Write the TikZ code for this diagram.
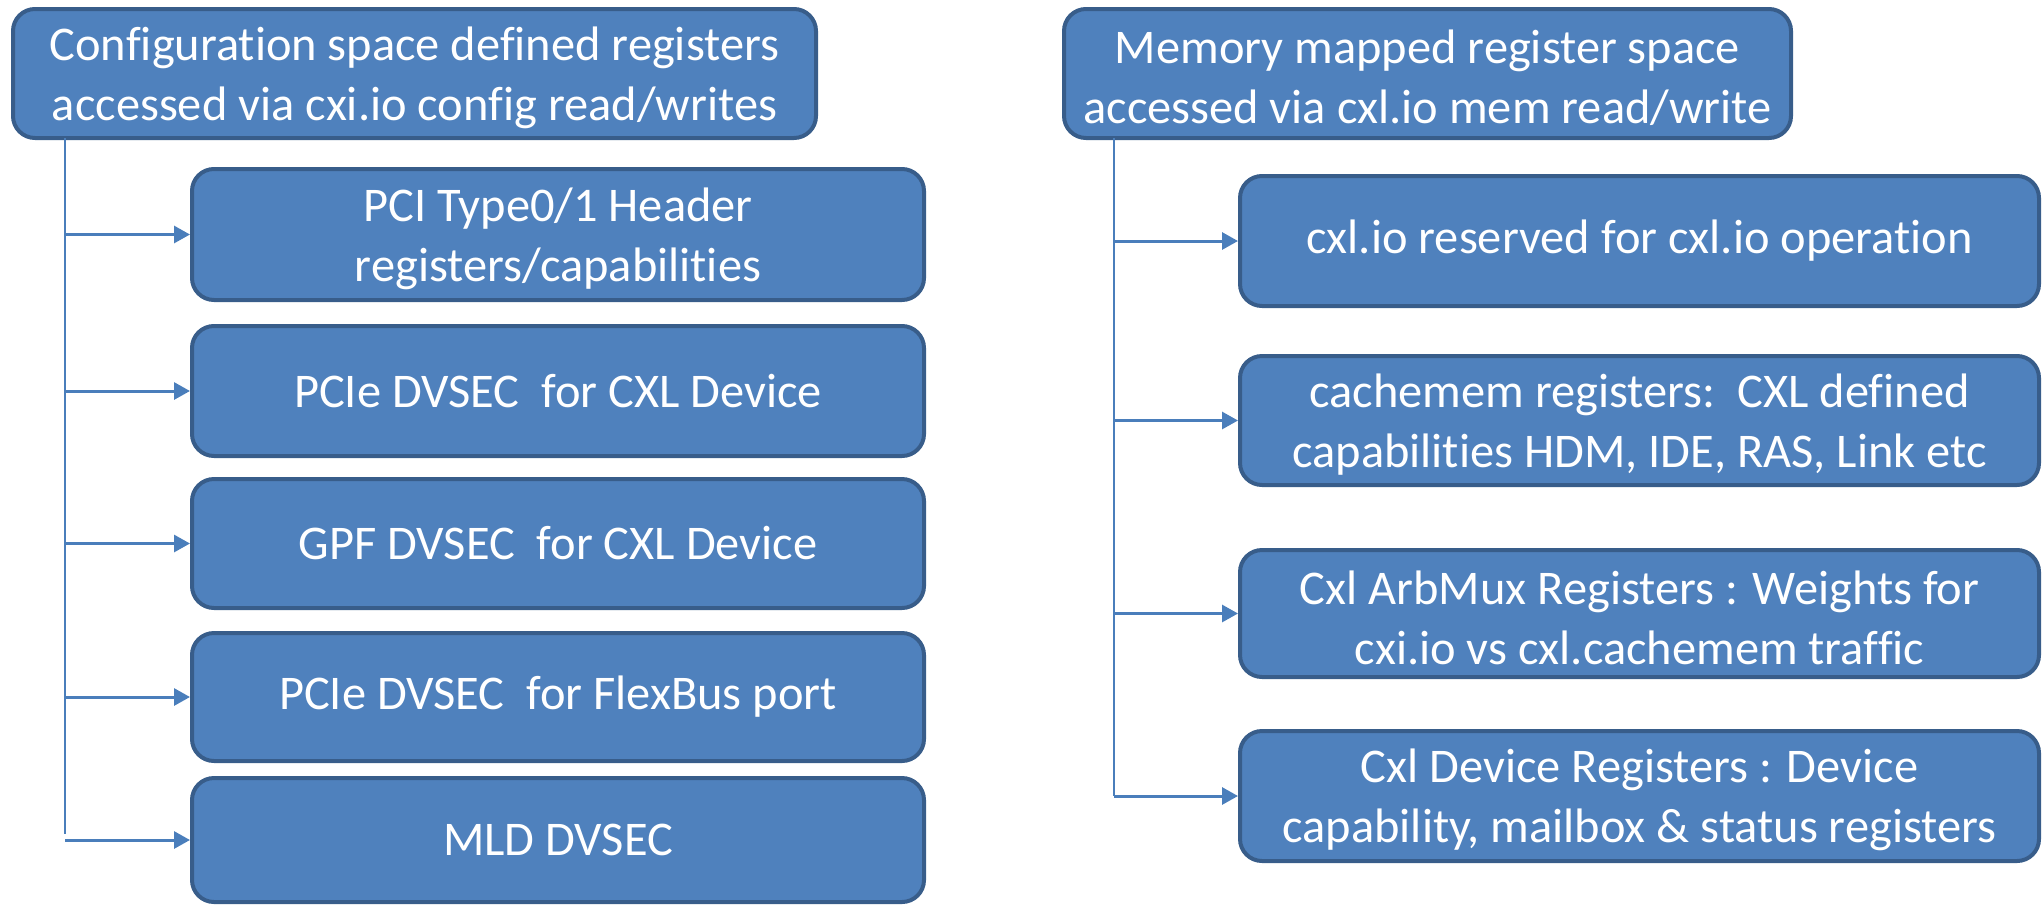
\documentclass[tikz,border=0pt]{standalone}
\usepackage{fontspec}
\setmainfont{Carlito}[Ligatures=NoCommon]
\usetikzlibrary{arrows.meta}
\definecolor{boxfill}{HTML}{4F81BD}
\definecolor{boxedge}{HTML}{385D8A}
\definecolor{linkcol}{HTML}{4A7EBB}
% strut that lowers two-line labels slightly inside their boxes
\newcommand{\toppad}{\rule{0pt}{21pt}}
\tikzset{
  regbox/.style={draw=boxedge, fill=boxfill, line width=2pt, rounded corners=11pt,
    text=white, align=center, inner sep=0pt,
    font=\fontsize{24.2}{30}\selectfont},
  trunk/.style={draw=linkcol, line width=1pt},
  feed/.style={draw=linkcol, line width=1.5pt, -{Triangle[length=8pt,width=8.5pt]}}
}
\begin{document}
\begin{tikzpicture}[x=0.5pt,y=-0.5pt]
\useasboundingbox (0,0) rectangle (2043,905);

% left column: configuration space
\node[regbox, minimum width=401.5pt, minimum height=64.5pt] (lhdr) at (414.5,73.5)
  {\toppad Configuration space defined registers\\accessed via cxi.io config read/writes};
\node[regbox, minimum width=366pt, minimum height=65.5pt] (l1) at (558,234.5)
  {\toppad PCI Type0/1 Header\\registers/capabilities};
\node[regbox, minimum width=366pt, minimum height=65pt] (l2) at (558,391)
  {PCIe DVSEC\ \ for CXL Device};
\node[regbox, minimum width=366pt, minimum height=64.5pt] (l3) at (558,543.5)
  {GPF DVSEC\ \ for CXL Device};
\node[regbox, minimum width=366pt, minimum height=64pt] (l4) at (558,697)
  {PCIe DVSEC\ \ for FlexBus port};
\node[regbox, minimum width=366pt, minimum height=62pt] (l5) at (558,840)
  {MLD DVSEC};

% right column: memory mapped space
\node[regbox, minimum width=363.5pt, minimum height=64.5pt] (rhdr) at (1427.5,73.5)
  {\toppad Memory mapped register space\\accessed via cxl.io mem read/write};
\node[regbox, minimum width=399.5pt, minimum height=65pt] (r1) at (1639.5,241)
  {cxl.io reserved for cxl.io operation};
\node[regbox, minimum width=399.5pt, minimum height=64.5pt] (r2) at (1639.5,420.5)
  {\toppad cachemem registers:\ \ CXL defined\\capabilities HDM, IDE, RAS, Link etc};
\node[regbox, minimum width=399.5pt, minimum height=63.5pt] (r3) at (1639.5,613.5)
  {\toppad Cxl ArbMux Registers : Weights for\\cxi.io vs cxl.cachemem traffic};
\node[regbox, minimum width=399.5pt, minimum height=65pt] (r4) at (1639.5,796)
  {\toppad Cxl Device Registers : Device\\capability, mailbox \& status registers};

% left trunk and branches
\coordinate (ltop) at (65,138);
\coordinate (lbot) at (65,834);
\draw[trunk] (ltop) -- (lbot);
\foreach \b in {l1,l2,l3,l4,l5}
  \draw[feed] (ltop |- \b.west) -- (\b.west);

% right trunk and branches
\coordinate (rtop) at (1114,138);
\draw[trunk] (rtop) -- (rtop |- r4.west);
\foreach \b in {r1,r2,r3,r4}
  \draw[feed] (rtop |- \b.west) -- (\b.west);
\end{tikzpicture}
\end{document}
